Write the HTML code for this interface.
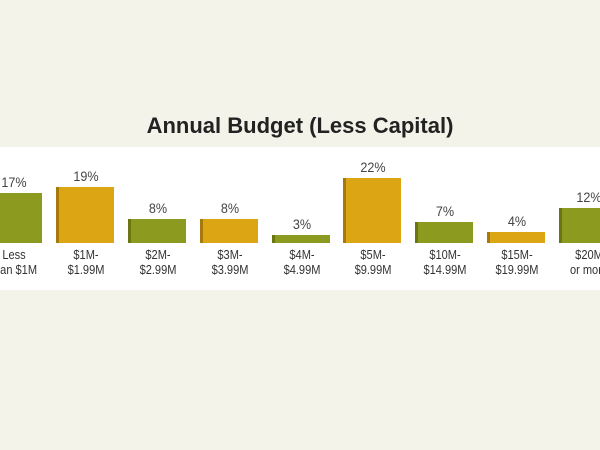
<!DOCTYPE html>
<html><head><style>
body{margin:0;width:600px;height:450px;background:#f3f3e9;position:relative;overflow:hidden;font-family:"Liberation Sans Narrow","Liberation Sans",sans-serif;}
.t{position:absolute;top:113px;left:0;width:600px;text-align:center;font-weight:bold;font-size:22px;color:#222;}
.band{position:absolute;left:0;top:147px;width:600px;height:143px;background:#fff;}
.b{position:absolute;bottom:207px;width:55px;}
.g{background:#8c9b1f;border-left:3px solid #6b7512;}
.y{background:#dca513;border-left:3px solid #a57a0b;}
.p{position:absolute;width:72px;text-align:center;font-size:14px;color:#444;transform:scaleX(0.9);}
.l{position:absolute;top:247px;width:72px;text-align:center;font-size:13px;line-height:15px;color:#333;transform:scaleX(0.85);}
</style></head><body>
<div class="t">Annual Budget (Less Capital)</div>
<div class="band"></div>
<div class="b g" style="left:-16px;top:193px"></div>
<div class="b y" style="left:56px;top:187px"></div>
<div class="b g" style="left:128px;top:219px"></div>
<div class="b y" style="left:200px;top:219px"></div>
<div class="b g" style="left:272px;top:235px"></div>
<div class="b y" style="left:343px;top:178px"></div>
<div class="b g" style="left:415px;top:222px"></div>
<div class="b y" style="left:487px;top:232px"></div>
<div class="b g" style="left:559px;top:208px"></div>
<div class="p" style="left:-22px;top:174px">17%</div>
<div class="p" style="left:50px;top:168px">19%</div>
<div class="p" style="left:122px;top:200px">8%</div>
<div class="p" style="left:194px;top:200px">8%</div>
<div class="p" style="left:266px;top:216px">3%</div>
<div class="p" style="left:337px;top:159px">22%</div>
<div class="p" style="left:409px;top:203px">7%</div>
<div class="p" style="left:481px;top:213px">4%</div>
<div class="p" style="left:553px;top:189px">12%</div>
<div class="l" style="left:-22px">Less<br>than $1M</div>
<div class="l" style="left:50px">$1M-<br>$1.99M</div>
<div class="l" style="left:122px">$2M-<br>$2.99M</div>
<div class="l" style="left:194px">$3M-<br>$3.99M</div>
<div class="l" style="left:266px">$4M-<br>$4.99M</div>
<div class="l" style="left:337px">$5M-<br>$9.99M</div>
<div class="l" style="left:409px">$10M-<br>$14.99M</div>
<div class="l" style="left:481px">$15M-<br>$19.99M</div>
<div class="l" style="left:553px">$20M<br>or more</div>
</body></html>
